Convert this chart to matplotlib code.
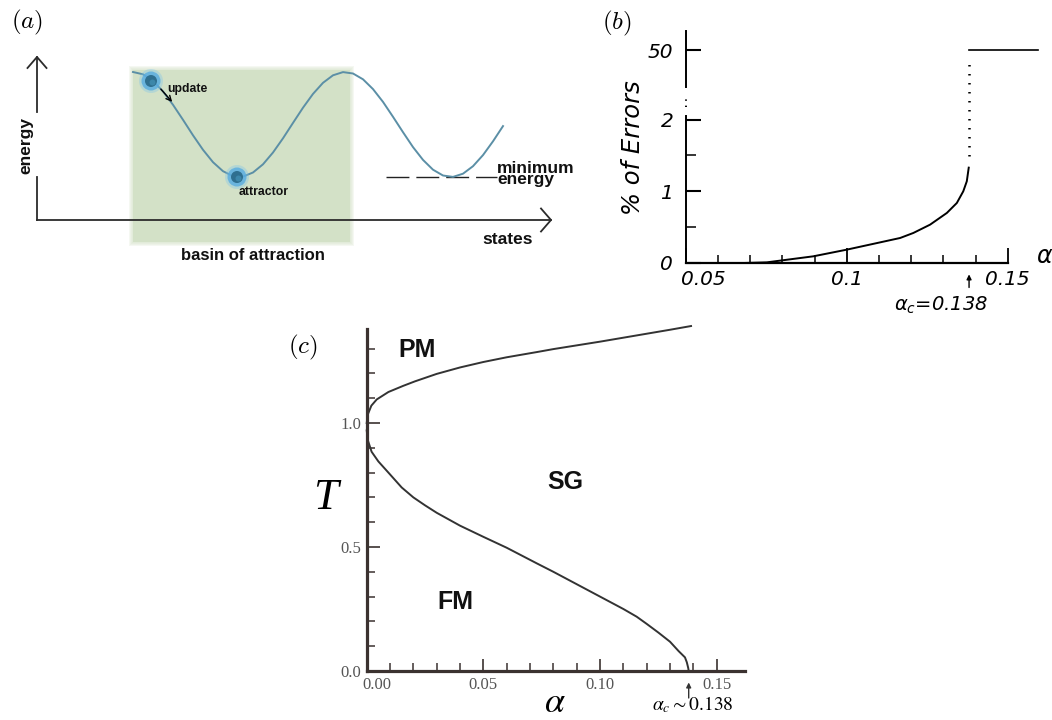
import numpy as np
import matplotlib
matplotlib.use("Agg")
import matplotlib.pyplot as plt
import matplotlib.transforms as mtransforms
from matplotlib.patches import Rectangle, Circle
from matplotlib.ticker import FixedLocator

W, H = 1052, 720

# (a) schematic energy landscape, state index vs energy (arbitrary units)
landscape_state = [96, 106, 116, 126, 136, 146, 156, 166, 176, 186, 196, 206, 216,
                   226, 236, 246, 256, 266, 276, 286, 296, 306, 316, 326, 336, 346,
                   356, 366, 376, 386, 396, 406, 416, 426, 436, 446, 456, 466]
landscape_energy = [148.0, 145.7, 139.0, 128.6, 115.2, 100.2, 84.7, 70.2, 57.8, 48.8,
                    43.8, 43.4, 47.5, 55.7, 67.5, 81.7, 97.1, 112.3, 126.1, 137.2,
                    144.7, 147.9, 146.5, 140.7, 130.9, 118.1, 103.2, 87.8, 72.9, 60.1,
                    50.3, 44.5, 43.1, 46.3, 53.8, 64.9, 78.7, 93.9]
basin_range = (96, 313)
update_state, update_energy = 114, 139
attractor_state, attractor_energy = 200, 43
min_energy = 43

# (b) retrieval errors vs alpha
alpha_err = [0.05, 0.06, 0.068, 0.0752, 0.0793, 0.0896, 0.1, 0.1104, 0.1166, 0.1207,
             0.1259, 0.1311, 0.1342, 0.1362, 0.1373, 0.1379]
err_pct = [0.0, 0.0, 0.0, 0.009, 0.033, 0.093, 0.186, 0.288, 0.349, 0.419,
           0.535, 0.698, 0.837, 1.0, 1.14, 1.33]
alpha_c = 0.138
err_ticks = [0, 1, 2, 2.97]          # axis is broken between 2 and 50
err_ticklabels = ["0", "1", "2", "50"]
err_high = 2.97                      # position of the 50 % level
alpha_high_end = 0.1595

# (c) phase diagram T vs alpha
pm_alpha = [0.0, 0.0005, 0.002, 0.0043, 0.0093, 0.0157, 0.0207, 0.03, 0.04, 0.05,
            0.06, 0.0729, 0.08, 0.09, 0.1, 0.11, 0.12, 0.13, 0.139]
pm_T = [1.0, 1.035, 1.07, 1.095, 1.125, 1.15, 1.168, 1.198, 1.224, 1.246,
        1.265, 1.286, 1.298, 1.313, 1.328, 1.344, 1.36, 1.376, 1.391]
fm_alpha = [0.0, 0.0005, 0.0021, 0.005, 0.0093, 0.015, 0.02, 0.025, 0.03, 0.04,
            0.05, 0.06, 0.0729, 0.08, 0.09, 0.1, 0.11, 0.1157, 0.12, 0.125, 0.13,
            0.1337, 0.1364, 0.1372, 0.1378, 0.138]
fm_T = [0.97, 0.93, 0.884, 0.845, 0.80, 0.74, 0.70, 0.668, 0.638, 0.586,
        0.541, 0.497, 0.434, 0.40, 0.35, 0.30, 0.25, 0.219, 0.19, 0.155, 0.118,
        0.08, 0.055, 0.035, 0.012, 0.0]


def box(x0, y0, x1, y1):
    return [x0 / W, 1 - y1 / H, (x1 - x0) / W, (y1 - y0) / H]


def ftext(x, y, s, **kw):
    fig.text(x / W, 1 - y / H, s, ha=kw.pop("ha", "center"), va=kw.pop("va", "center"), **kw)


fig = plt.figure(figsize=(W / 100, H / 100), dpi=100)
bold = dict(family="Liberation Sans", weight="bold", color="#111111")

# ---------------- (a) ----------------
ax = fig.add_axes(box(0, 0, 580, 300))
ax.set_xlim(-37, 543)
ax.set_ylim(-80, 220)
ax.axis("off")

b0, b1 = basin_range
green = "#d3e1c7"
for pad in [4, 3, 2, 1]:
    ax.add_patch(Rectangle((b0 - pad, -22 - pad), b1 - b0 + 2 * pad, 172 + 2 * pad,
                           color=green, alpha=0.22, lw=0, zorder=0))
ax.add_patch(Rectangle((b0, -22), b1 - b0, 172, color=green, lw=0, zorder=0))

axc = "#2b2b2b"
ax.plot([0, 0], [0, 43], color=axc, lw=1.3)
ax.plot([0, 0], [108, 163], color=axc, lw=1.3)
ax.plot([-9.5, 0, 9.5], [152, 163, 152], color=axc, lw=1.3)
ax.plot([0, 514], [0, 0], color=axc, lw=1.3, zorder=2)
ax.plot([504, 514, 504], [11.5, 0, -11.5], color=axc, lw=1.3)

ax.plot([349, 460], [min_energy, min_energy], color="#222222", lw=1.0, linestyle=(0, (16.5, 5)))
ax.plot(landscape_state, landscape_energy, color="#5b8fa6", lw=1.4, zorder=3)

for sx, ey in [(update_state, update_energy), (attractor_state, attractor_energy)]:
    ax.add_patch(Circle((sx, ey), 12, color="#7cc4ea", alpha=0.35, lw=0, zorder=4))
    ax.add_patch(Circle((sx, ey), 9.5, color="#58ace0", alpha=0.8, lw=0, zorder=4))
    ax.add_patch(Circle((sx, ey), 6, color="#2f6f8f", lw=0, zorder=5))
    ax.add_patch(Circle((sx + 1.5, ey - 1.5), 3, color="#3d87aa", lw=0, zorder=5))

ax.annotate("", xy=(137, 116), xytext=(122, 133),
            arrowprops=dict(arrowstyle="->", color="black", lw=1.0, mutation_scale=9), zorder=6)
ax.text(130, 131, "update", fontsize=8.8, ha="left", va="center", **bold)
ax.text(227, 28, "attractor", fontsize=8.8, ha="center", va="center", **bold)
ax.text(-11.5, 75, "energy", fontsize=12.5, rotation=90, ha="center", va="center", **bold)
ax.text(470.5, -19, "states", fontsize=12.5, ha="center", va="center", **bold)
ax.text(215.5, -35, "basin of attraction", fontsize=12, ha="center", va="center", **bold)
ax.text(460, 46, "minimum\nenergy", fontsize=12.5, ha="left", va="center", linespacing=0.7,
        clip_on=False, **bold)

ftext(27, 22, r"$(a)$", fontsize=18, math_fontfamily="cm")

# ---------------- (b) ----------------
bx = fig.add_axes(box(685.7, 26.4, 1039.9, 263))
bx.set_xlim(0.05, 0.16)
bx.set_ylim(0, 3.3)
bx.patch.set_alpha(0)
for s in ["top", "right", "left"]:
    bx.spines[s].set_visible(False)
bx.spines["bottom"].set_bounds(0.05, 0.15)
bx.spines["bottom"].set_linewidth(1.6)
bx.plot([0.05, 0.05], [0, 2.05], color="black", lw=1.4, clip_on=False)
bx.plot([0.05, 0.05], [2.45, 3.23], color="black", lw=1.4, clip_on=False)
bx.plot([0.05, 0.05], [2.18, 2.33], color="black", lw=1.4, linestyle=(0, (0.7, 2.5)), clip_on=False)

bx.plot(alpha_err, err_pct, color="black", lw=1.4)
bx.plot([alpha_c, alpha_c], [1.49, 2.84], color="black", lw=1.8, linestyle=(0, (0.6, 3.0)))
bx.plot([alpha_c, alpha_high_end], [err_high, err_high], color="black", lw=1.2)

sans_it = dict(family="DejaVu Sans", style="italic")
bx.set_xticks([0.05, 0.1, 0.15])
bx.set_xticklabels(["0.05", "0.1", "0.15"], fontsize=14.5, **sans_it)
bx.xaxis.set_minor_locator(FixedLocator([0.06, 0.07, 0.08, 0.09, 0.11, 0.12, 0.13, 0.14]))
bx.set_yticks(err_ticks)
bx.set_yticklabels(err_ticklabels, fontsize=14.5, **sans_it)
bx.yaxis.set_minor_locator(FixedLocator([0.5, 1.5]))
bx.tick_params(axis="x", which="major", direction="in", length=11, width=1.3, pad=5)
bx.tick_params(axis="x", which="minor", direction="in", length=6, width=1.1)
bx.tick_params(axis="y", which="major", direction="in", length=11, width=1.5, pad=9)
bx.tick_params(axis="y", which="minor", direction="in", length=7, width=1.1)
lab0 = bx.get_xticklabels()[0]
lab0.set_ha("left")
lab0.set_transform(lab0.get_transform() + mtransforms.ScaledTranslation(-5 / 100, 0, fig.dpi_scale_trans))
bx.annotate("", xy=(alpha_c, -0.12), xytext=(alpha_c, -0.38), xycoords="data",
            arrowprops=dict(arrowstyle="-|>", color="black", lw=1.0, mutation_scale=7),
            annotation_clip=False)

ftext(633, 148, "% of Errors", rotation=90, fontsize=17.5, **sans_it)
ftext(1045, 256, r"$\alpha$", fontsize=17, math_fontfamily="dejavusans")
ftext(941, 305, r"$\alpha_c$=0.138", fontsize=14, math_fontfamily="dejavusans", **sans_it)
ftext(617, 23, r"$(b)$", fontsize=18, math_fontfamily="cm")

# ---------------- (c) ----------------
cx = fig.add_axes(box(366.7, 323.8, 744.7, 671))
cx.set_xlim(0, 0.162)
cx.set_ylim(0, 1.4)
cx.patch.set_alpha(0)
spc = "#3b3230"
for s in ["top", "right"]:
    cx.spines[s].set_visible(False)
for s in ["left", "bottom"]:
    cx.spines[s].set_linewidth(2.3)
    cx.spines[s].set_color(spc)
cx.spines["left"].set_bounds(0, 1.38)

cx.plot(pm_alpha, pm_T, color="#333333", lw=1.4, clip_on=False)
cx.plot(fm_alpha, fm_T, color="#333333", lw=1.4, clip_on=False)

serif = dict(family="Liberation Serif", color="#555555")
cx.set_xticks([0, 0.05, 0.1, 0.15])
cx.set_xticklabels(["0.00", "0.05", "0.10", "0.15"], fontsize=12, **serif)
cx.xaxis.set_minor_locator(FixedLocator(np.arange(1, 16) / 100))
cx.set_yticks([0, 0.5, 1.0])
cx.set_yticklabels(["0.0", "0.5", "1.0"], fontsize=12, **serif)
cx.yaxis.set_minor_locator(FixedLocator(np.arange(1, 14) / 10))
cx.tick_params(axis="both", which="major", direction="in", length=9, width=1.2, color=spc, pad=4)
cx.tick_params(axis="both", which="minor", direction="in", length=6, width=1.1, color=spc)
lab0 = cx.get_xticklabels()[0]
lab0.set_transform(lab0.get_transform() + mtransforms.ScaledTranslation(10 / 100, 0, fig.dpi_scale_trans))
cx.annotate("", xy=(alpha_c, -0.035), xytext=(alpha_c, -0.12),
            arrowprops=dict(arrowstyle="-|>", color="#333333", lw=1.0, mutation_scale=7),
            annotation_clip=False)

ftext(416.7, 350, "PM", fontsize=18, **bold)
ftext(565, 482, "SG", fontsize=18, **bold)
ftext(455, 602, "FM", fontsize=18, **bold)
ftext(325, 498, "T", fontsize=32, family="Liberation Serif", style="italic")
ftext(555, 702, r"$\alpha$", fontsize=26, math_fontfamily="stix")
ftext(693, 705, r"$\alpha_c \sim 0.138$", fontsize=14, math_fontfamily="stix")
ftext(303, 347, r"$(c)$", fontsize=18, math_fontfamily="cm")

fig.savefig("out.png", dpi=100)
